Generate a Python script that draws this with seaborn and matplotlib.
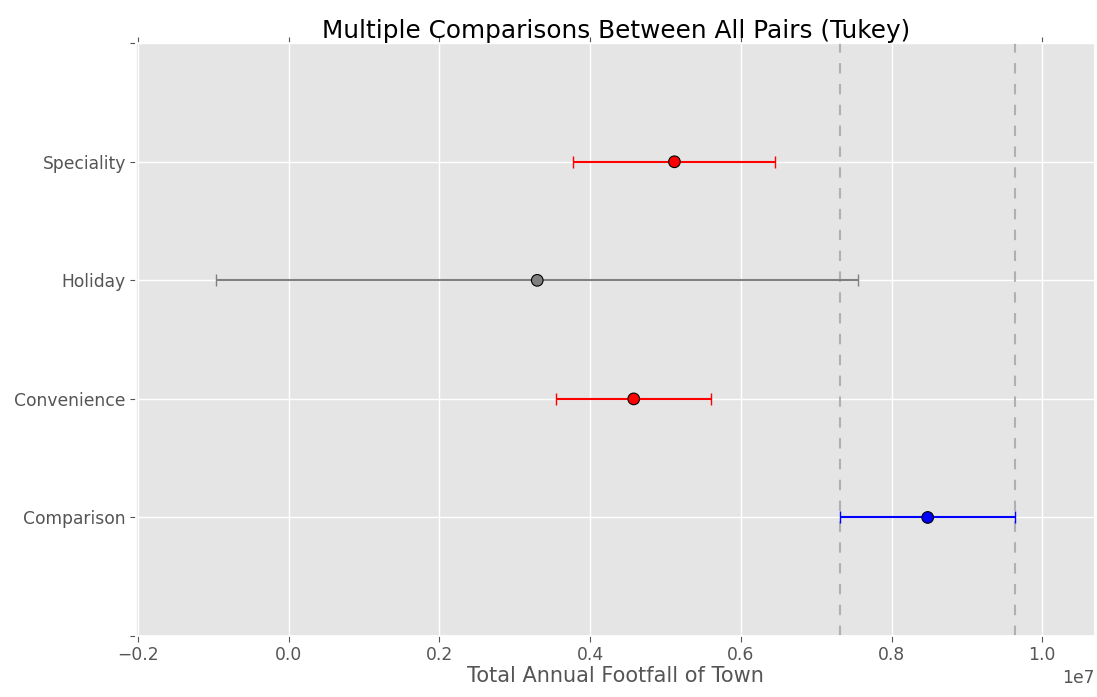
import numpy as np
import pandas as pd
import matplotlib
matplotlib.use("Agg")
import matplotlib.pyplot as plt
import seaborn as sns

# Group means and Tukey half-widths
groups = ["Comparison", "Convenience", "Holiday", "Speciality"]
means = [8.48e6, 4.58e6, 3.30e6, 5.12e6]
halfwidths = [1.16e6, 1.03e6, 4.26e6, 1.34e6]
colors = ["blue", "red", "gray", "red"]
# comparison group interval bounds (dashed lines)
ref_lo = means[0] - halfwidths[0]
ref_hi = means[0] + halfwidths[0]

df = pd.DataFrame({"group": groups, "mean": means, "hw": halfwidths, "color": colors})
df["pos"] = np.arange(len(df))

sns.set_theme(style="darkgrid", rc={
    "axes.facecolor": "#E5E5E5",
    "grid.color": "white",
    "grid.linewidth": 1.0,
    "xtick.color": "#555555",
    "ytick.color": "#555555",
    "xtick.labelcolor": "#555555",
    "ytick.labelcolor": "#555555",
    "axes.labelcolor": "#555555",
    "xtick.bottom": True,
    "xtick.top": True,
    "ytick.left": True,
    "xtick.direction": "out",
    "ytick.direction": "out",
    "xtick.major.size": 4,
    "ytick.major.size": 4,
    "xtick.major.width": 0.8,
    "ytick.major.width": 0.8,
})
plt.rcParams["font.family"] = ["DejaVu Sans"]

fig = plt.figure(figsize=(10.97, 6.97), dpi=100)
ax = fig.add_axes([0.1242, 0.0875, 0.8740, 0.8505])

for _, r in df.iterrows():
    ax.errorbar(r["mean"], r["pos"], xerr=r["hw"], fmt="none", ecolor=r["color"],
                elinewidth=1.5, capsize=4, capthick=1.0, zorder=3)

sns.scatterplot(data=df, x="mean", y="pos", hue="group",
                palette=dict(zip(groups, colors)), s=70, edgecolor="black",
                linewidth=0.8, legend=False, zorder=4, ax=ax)

ax.axvline(ref_lo, color="#b0b0b0", linestyle=(0, (5, 5)), linewidth=1.5, zorder=2)
ax.axvline(ref_hi, color="#b0b0b0", linestyle=(0, (5, 5)), linewidth=1.5, zorder=2)

lo = min(m - h for m, h in zip(means, halfwidths))
hi = max(m + h for m, h in zip(means, halfwidths))
rng = hi - lo
ax.set_xlim(lo - rng / 10, hi + rng / 10)
ax.set_ylim(-1, len(groups))
ax.set_yticks(range(-1, len(groups) + 1))
ax.set_yticklabels([""] + groups + [""], fontsize=12.3)
ax.tick_params(axis="x", labelsize=12.3, top=True)
ax.xaxis.get_offset_text().set_fontsize(12.3)
ax.xaxis.get_offset_text().set_color("#555555")

ax.set_title("Multiple Comparisons Between All Pairs (Tukey)", fontsize=17.8, color="black", pad=2)
ax.set_xlabel("Total Annual Footfall of Town", fontsize=15, labelpad=1)
ax.set_ylabel("")

plt.savefig("out.png", dpi=100)
